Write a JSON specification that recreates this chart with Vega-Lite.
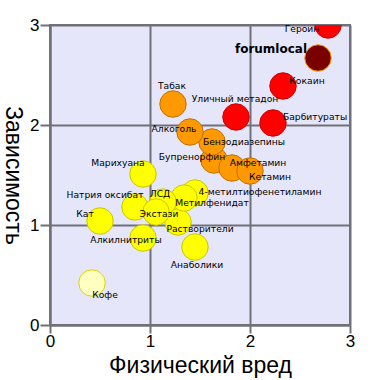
{
  "$schema": "https://vega.github.io/schema/vega-lite/v6.json",
  "width": 300,
  "height": 300,
  "autosize": {"type": "none"},
  "padding": {"left": 50, "top": 25, "right": 30, "bottom": 55},
  "background": "white",
  "config": {
    "view": {"fill": "#e6e6fa", "stroke": "#707078", "strokeWidth": 2},
    "axis": {
      "grid": true,
      "gridColor": "#707078",
      "gridWidth": 2,
      "gridOpacity": 1,
      "domainColor": "#707078",
      "domainWidth": 2,
      "tickColor": "#707078",
      "tickWidth": 2,
      "tickSize": 8,
      "labelFlush": false,
      "labelOverlap": false,
      "labelFont": "Liberation Sans",
      "labelFontSize": 17,
      "labelColor": "black",
      "titleFont": "Liberation Sans",
      "titleFontSize": 23,
      "titleFontWeight": "normal",
      "titleColor": "black"
    }
  },
  "data": {
    "values": [
      {"name": "Кофе", "group": "coffee", "phys": 0.42, "dep": 0.42, "lx": 0.55, "ly": 0.30},
      {"name": "Кат", "group": "yellow", "phys": 0.50, "dep": 1.04, "lx": 0.35, "ly": 1.11},
      {"name": "Алкилнитриты", "group": "yellow", "phys": 0.93, "dep": 0.87, "lx": 0.76, "ly": 0.85},
      {"name": "Анаболики", "group": "yellow", "phys": 1.45, "dep": 0.78, "lx": 1.47, "ly": 0.60},
      {"name": "Растворители", "group": "yellow", "phys": 1.28, "dep": 1.03, "lx": 1.50, "ly": 0.96},
      {"name": "4-метилтиофенетиламин", "group": "yellow", "phys": 1.45, "dep": 1.32, "lx": 2.10, "ly": 1.33},
      {"name": "Метилфенидат", "group": "yellow", "phys": 1.34, "dep": 1.27, "lx": 1.62, "ly": 1.22},
      {"name": "ЛСД", "group": "yellow", "phys": 1.13, "dep": 1.23, "lx": 1.10, "ly": 1.31},
      {"name": "Натрия оксибат", "group": "yellow", "phys": 0.85, "dep": 1.18, "lx": 0.55, "ly": 1.30},
      {"name": "Экстази", "group": "yellow", "phys": 1.06, "dep": 1.13, "lx": 1.09, "ly": 1.11},
      {"name": "Марихуана", "group": "yellow", "phys": 0.93, "dep": 1.51, "lx": 0.68, "ly": 1.62},
      {"name": "Бупренорфин", "group": "orange", "phys": 1.64, "dep": 1.65, "lx": 1.42, "ly": 1.68},
      {"name": "Амфетамин", "group": "orange", "phys": 1.82, "dep": 1.57, "lx": 2.08, "ly": 1.62},
      {"name": "Кетамин", "group": "orange", "phys": 2.00, "dep": 1.54, "lx": 2.20, "ly": 1.48},
      {"name": "Бензодиазепины", "group": "orange", "phys": 1.62, "dep": 1.83, "lx": 1.94, "ly": 1.83},
      {"name": "Алкоголь", "group": "orange", "phys": 1.40, "dep": 1.93, "lx": 1.24, "ly": 1.96},
      {"name": "Табак", "group": "orange", "phys": 1.23, "dep": 2.21, "lx": 1.22, "ly": 2.39},
      {"name": "Уличный метадон", "group": "red", "phys": 1.86, "dep": 2.08, "lx": 1.85, "ly": 2.26},
      {"name": "Барбитураты", "group": "red", "phys": 2.23, "dep": 2.02, "lx": 2.65, "ly": 2.08},
      {"name": "Кокаин", "group": "red", "phys": 2.33, "dep": 2.39, "lx": 2.57, "ly": 2.44},
      {"name": "forumlocal", "group": "dark", "phys": 2.68, "dep": 2.67, "lx": 2.21, "ly": 2.76},
      {"name": "Героин", "group": "red", "phys": 2.78, "dep": 3.00, "lx": 2.52, "ly": 2.96}
    ]
  },
  "encoding": {
    "x": {
      "field": "phys", "type": "quantitative",
      "scale": {"domain": [0, 3], "nice": false, "zero": true},
      "axis": {"values": [0, 1, 2, 3], "format": "d", "title": "Физический вред", "titlePadding": 5, "labelPadding": 0}
    },
    "y": {
      "field": "dep", "type": "quantitative",
      "scale": {"domain": [0, 3], "nice": false},
      "axis": {"values": [0, 1, 2, 3], "format": "d", "title": "Зависимость", "titleAngle": 90, "titleBaseline": "top", "titlePadding": 6, "labelPadding": 1, "tickSize": 10}
    }
  },
  "layer": [
    {
      "mark": {"type": "circle", "size": 700, "opacity": 1, "strokeWidth": 1, "clip": true},
      "encoding": {
        "color": {
          "field": "group", "type": "nominal",
          "scale": {"domain": ["coffee", "yellow", "orange", "red", "dark"], "range": ["#ffffc0", "#ffff00", "#ff9900", "#ff0000", "#7a0000"]},
          "legend": null
        },
        "stroke": {
          "field": "group", "type": "nominal",
          "scale": {"domain": ["coffee", "yellow", "orange", "red", "dark"], "range": ["#d8d800", "#c8c800", "#c07000", "#cc0000", "#ff9900"]},
          "legend": null
        }
      }
    },
    {
      "transform": [{"filter": "datum.name !== 'forumlocal'"}],
      "mark": {"type": "text", "font": "DejaVu Sans", "fontSize": 9.2, "align": "center", "baseline": "middle", "color": "black"},
      "encoding": {
        "x": {"field": "lx", "type": "quantitative"},
        "y": {"field": "ly", "type": "quantitative"},
        "text": {"field": "name"}
      }
    },
    {
      "transform": [{"filter": "datum.name === 'forumlocal'"}],
      "mark": {"type": "text", "font": "DejaVu Sans", "fontSize": 12, "fontWeight": "bold", "align": "center", "baseline": "middle", "color": "black"},
      "encoding": {
        "x": {"field": "lx", "type": "quantitative"},
        "y": {"field": "ly", "type": "quantitative"},
        "text": {"field": "name"}
      }
    }
  ]
}
